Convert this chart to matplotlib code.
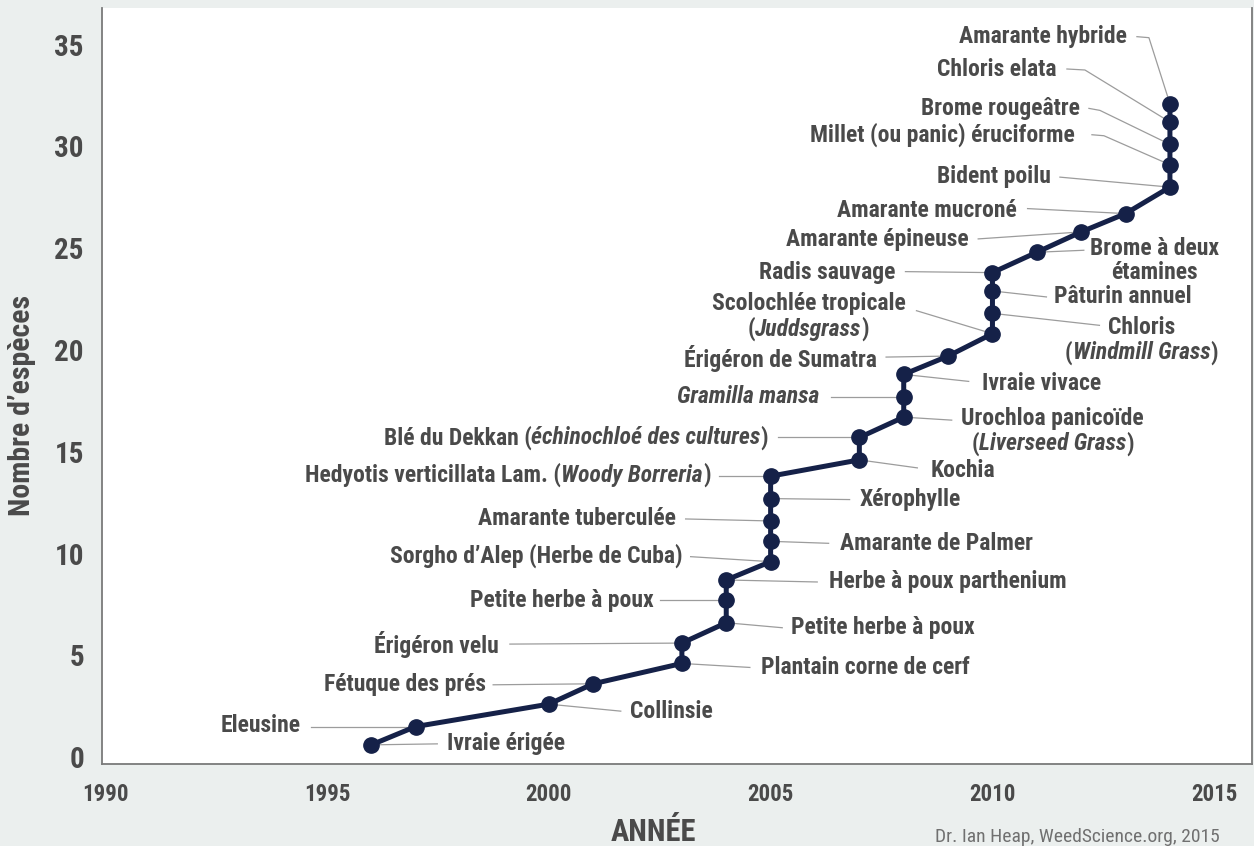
import matplotlib
matplotlib.use("Agg")
import matplotlib.pyplot as plt
from matplotlib.offsetbox import TextArea, HPacker, VPacker, AnnotationBbox

# data
years = [1996, 1997, 2000, 2001, 2003, 2003, 2004, 2004, 2004, 2005, 2005, 2005,
         2005, 2005, 2007, 2007, 2008, 2008, 2008, 2009, 2010, 2010, 2010, 2010,
         2011, 2012, 2013, 2014, 2014, 2014, 2014, 2014]
counts = [0.6, 1.5, 2.6, 3.6, 4.6, 5.6, 6.6, 7.7, 8.7, 9.6, 10.6, 11.6,
          12.7, 13.8, 14.6, 15.7, 16.7, 17.7, 18.8, 19.7, 20.8, 21.8, 22.9, 23.8,
          24.8, 25.8, 26.7, 28.0, 29.1, 30.1, 31.2, 32.1]
# *...* marks italic parts
species = [
    "Ivraie érigée", "Eleusine", "Collinsie", "Fétuque des prés",
    "Plantain corne de cerf", "Érigéron velu", "Petite herbe à poux",
    "Petite herbe à poux", "Herbe à poux parthenium",
    "Sorgho d’Alep (Herbe de Cuba)", "Amarante de Palmer", "Amarante tuberculée",
    "Xérophylle", "Hedyotis verticillata Lam. (*Woody Borreria*)", "Kochia",
    "Blé du Dekkan (*échinochloé des cultures*)",
    "Urochloa panicoïde\n(*Liverseed Grass*)", "*Gramilla mansa*", "Ivraie vivace",
    "Érigéron de Sumatra", "Scolochlée tropicale\n(*Juddsgrass*)",
    "Chloris\n(*Windmill Grass*)", "Pâturin annuel", "Radis sauvage",
    "Brome à deux\nétamines", "Amarante épineuse", "Amarante mucroné",
    "Bident poilu", "Millet (ou panic) éruciforme", "Brome rougeâtre",
    "Chloris elata", "Amarante hybride",
]
xticks = [1990, 1995, 2000, 2005, 2010, 2015]
yticks = [0, 5, 10, 15, 20, 25, 30, 35]

# label layout in pixels relative to the point: (align, text dx, text dy, leader dx, leader dy, knee)
layout = [
    ("l", 76, -1, 66, -1, None), ("r", -115, -1, -105, 0, None),
    ("l", 81, 7, 72, 7, None), ("r", -107, 1, -100, 1, None),
    ("l", 79, 4, 68, 4, None), ("r", -183, 1, -172, 1, None),
    ("l", 65, 5, 56, 5, None), ("r", -72, 0, -66, 0, None),
    ("l", 103, 2, 91, 2, None), ("r", -88, -6, -80, -5, None),
    ("l", 69, 2, 58, 2, None), ("r", -95, -2, -85, -2, None),
    ("l", 89, 1, 79, 1, None), ("r", -60, -1, -52, 0, None),
    ("l", 71, 11, 58, 8, None), ("r", -91, 0, -81, 0, None),
    ("c", 149, 14, 48, 3, None), ("r", -84, 0, -73, 0, None),
    ("l", 78, 9, 65, 7, None), ("r", -71, 2, -62, 1, None),
    ("c", -184, -17, -76, -23, None), ("c", 149, 27, 107, 12, None),
    ("l", 62, 6, 54, 6, None), ("r", -97, 0, -87, -1, None),
    ("c", 118, 8, 47, -2, None), ("r", -113, 8, -103, 7, None),
    ("r", -109, -3, -98, -5, None), ("r", -119, -11, -110, -10, None),
    ("r", -95, -30, -78, -30, (-66, -29)), ("r", -90, -36, -81, -36, (-70, -34)),
    ("r", -113, -52, -103, -53, (-85, -52)), ("r", -43, -67, -33, -67, (-21, -66)),
]

FONT = ["Roboto Condensed", "Liberation Sans"]
TXT = "#4a4a4a"
NAVY = "#152148"
W, H = 1254, 846

fig = plt.figure(figsize=(W / 100, H / 100), dpi=100)
fig.patch.set_facecolor("#ebefee")
ax = fig.add_axes([102 / W, 1 - 764 / H, 1150 / W, 756 / H])
ax.set_facecolor("white")

ax.plot(years, counts, color=NAVY, lw=3.6, marker="o", ms=11, zorder=4,
        clip_on=False)

ax.set_xlim(1989.93, 2015.85)
ax.set_ylim(-0.34, 36.8)
ax.set_xticks(xticks)
ax.set_yticks(yticks)
for s in ["left", "bottom", "right"]:
    ax.spines[s].set_color("#7a7a7a")
    ax.spines[s].set_linewidth(1.3)
ax.spines["top"].set_visible(False)
ax.tick_params(length=0)
ax.tick_params(axis="y", pad=13)
ax.tick_params(axis="x", pad=14)
for t in ax.get_yticklabels():
    t.set_fontfamily(FONT); t.set_fontweight("bold"); t.set_fontsize(21); t.set_color(TXT)
for t in ax.get_xticklabels():
    t.set_fontfamily(FONT); t.set_fontweight("bold"); t.set_fontsize(16.5); t.set_color(TXT)


def make_box(label):
    rows = []
    for line in label.split("\n"):
        parts = line.split("*")
        kids = []
        for i, p in enumerate(parts):
            if p:
                kids.append(TextArea(p, textprops=dict(
                    fontsize=17, fontweight="bold", color=TXT, family=FONT,
                    fontstyle="italic" if i % 2 else "normal")))
        rows.append(HPacker(children=kids, align="baseline", pad=0, sep=0))
    if len(rows) == 1:
        return rows[0]
    return VPacker(children=rows, align="center", pad=0, sep=1)


to_disp = ax.transData.transform
to_data = ax.transData.inverted().transform
align = {"l": (0, 0.5), "r": (1, 0.5), "c": (0.5, 0.5)}
for x, y, lab, (a, tdx, tdy, ldx, ldy, knee) in zip(years, counts, species, layout):
    ab = AnnotationBbox(make_box(lab), (x, y), xybox=(tdx, -tdy),
                        xycoords="data", boxcoords="offset pixels",
                        box_alignment=align[a], frameon=False, pad=0,
                        annotation_clip=False)
    ax.add_artist(ab)
    px, py = to_disp((x, y))
    pts = [(px + ldx, py - ldy)]
    if knee:
        pts.append((px + knee[0], py - knee[1]))
    pts.append((px, py))
    d = to_data(pts)
    ax.plot(d[:, 0], d[:, 1], color="#9c9c9c", lw=0.9, zorder=2, clip_on=False)

fig.text(22 / W, 1 - 405 / H, "Nombre d’espèces", rotation=90, ha="center",
         va="center", fontsize=21.5, fontweight="bold", color=TXT, family=FONT)
fig.text(653 / W, 1 - 832 / H, "ANNÉE", ha="center", va="center", fontsize=22,
         fontweight="bold", color=TXT, family=FONT)
fig.text(1220 / W, 1 - 837 / H, "Dr. Ian Heap, WeedScience.org, 2015", ha="right",
         va="center", fontsize=14, color="#707070", family=FONT)

fig.savefig("out.png", dpi=100, facecolor=fig.get_facecolor())
